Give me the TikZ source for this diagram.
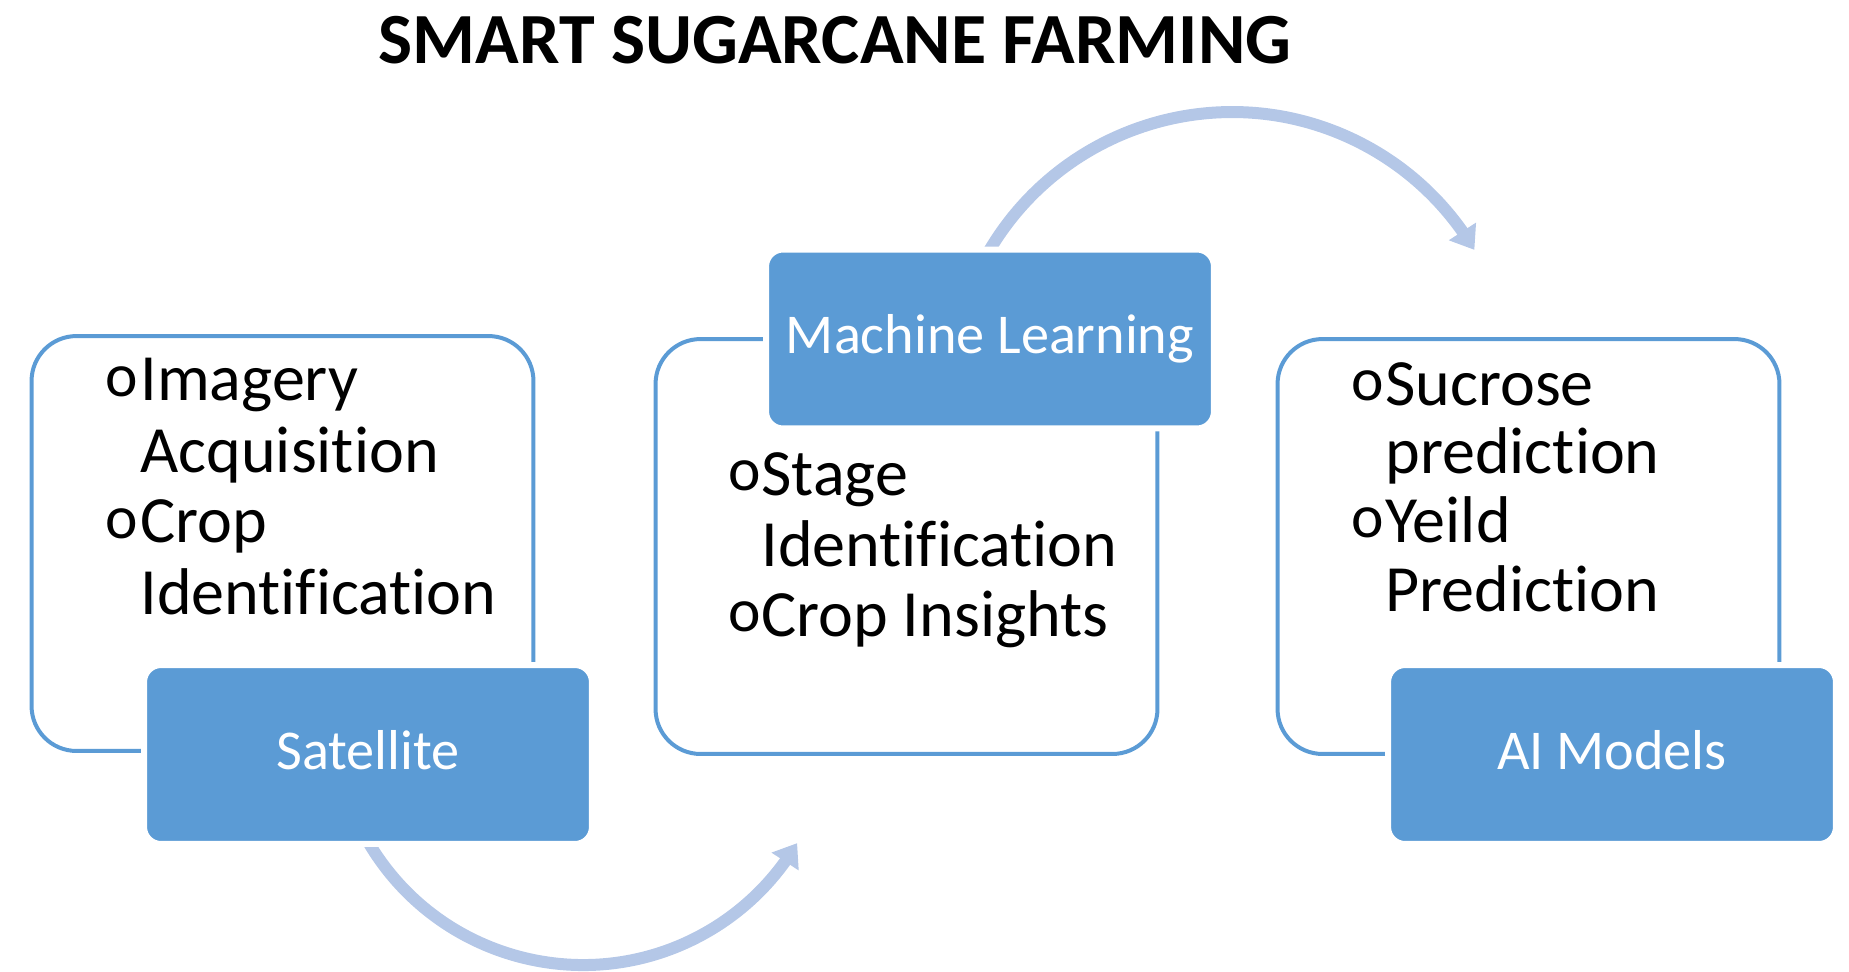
\documentclass[tikz,border=0pt]{standalone}
\usepackage{fontspec}
\setmainfont{Carlito}[Ligatures=NoCommon]
\usetikzlibrary{arrows.meta,bending}
\definecolor{accent}{HTML}{5B9BD5}
\definecolor{arrowc}{HTML}{B4C7E7}
\begin{document}
\begin{tikzpicture}[x=0.02cm,y=-0.02cm,
  whitebox/.style={draw=accent, line width=0.08cm, rounded corners=0.9cm, inner sep=0,
    minimum width=10.04cm, minimum height=8.3cm},
  bluebox/.style={fill=accent, draw=white, line width=0.12cm, rounded corners=0.34cm,
    minimum width=8.96cm, minimum height=3.58cm, inner sep=0, text=white,
    text height=0.78cm, text depth=0.2cm, font=\fontsize{32}{38}\selectfont},
  itemtext/.style={anchor=base west, inner sep=0, font=\fontsize{37.6}{42}\selectfont},
  bulletmark/.style={anchor=base west, inner sep=0, font=\fontsize{35}{35}\selectfont},
  flow/.style={draw=arrowc, line width=0.24cm, -{Triangle[length=0.44cm, width=0.62cm]}},
  titletext/.style={anchor=base, inner sep=0, font=\bfseries\fontsize{41}{49}\selectfont}]
\useasboundingbox (0,0) rectangle (1849,971);

% title
\node[titletext] (title) at (835,63) {SMART SUGARCANE FARMING};

% white boxes
\node[whitebox] (w1) at (282.5,543.5) {};
\node[whitebox] (w2) at (906.5,546.5) {};
\node[whitebox] (w3) at (1528.5,546.5) {};

% curved arrows
\coordinate (a1) at (367.4,840.5);
\draw[flow] (a1) arc[start angle=150, end angle=30.7, radius=249];
\coordinate (a2) at (986.6,255.2);
\draw[flow] (a2) arc[start angle=209.5, end angle=329.25, radius=282];

% blue boxes
\node[bluebox] (sat) at (368,754.5) {Satellite};
\node[bluebox] (ml) at (990,339) {Machine Learning};
\node[bluebox] (ai) at (1612,754.5) {AI Models};

% left box text
\node[bulletmark] (lb1) at (105,396) {o};
\node[itemtext] (lt1) at (140,400) {Imagery};
\node[itemtext] (lt2) at (140,472) {Acquisition};
\node[bulletmark] (lb2) at (105,538) {o};
\node[itemtext] (lt3) at (140,542) {Crop};
\node[itemtext] (lt4) at (140,614) {Identification};

% middle box text
\node[bulletmark] (mb1) at (728,490) {o};
\node[itemtext] (mt1) at (761,495) {Stage};
\node[itemtext] (mt2) at (761,566) {Identification};
\node[bulletmark] (mb2) at (728,631) {o};
\node[itemtext] (mt3) at (761,636) {Crop Insights};

% right box text
\node[bulletmark] (rb1) at (1351,400) {o};
\node[itemtext] (rt1) at (1385,405) {Sucrose};
\node[itemtext] (rt2) at (1385,473) {prediction};
\node[bulletmark] (rb2) at (1351,537) {o};
\node[itemtext] (rt3) at (1385,542) {Yeild};
\node[itemtext] (rt4) at (1385,611) {Prediction};
\end{tikzpicture}
\end{document}
